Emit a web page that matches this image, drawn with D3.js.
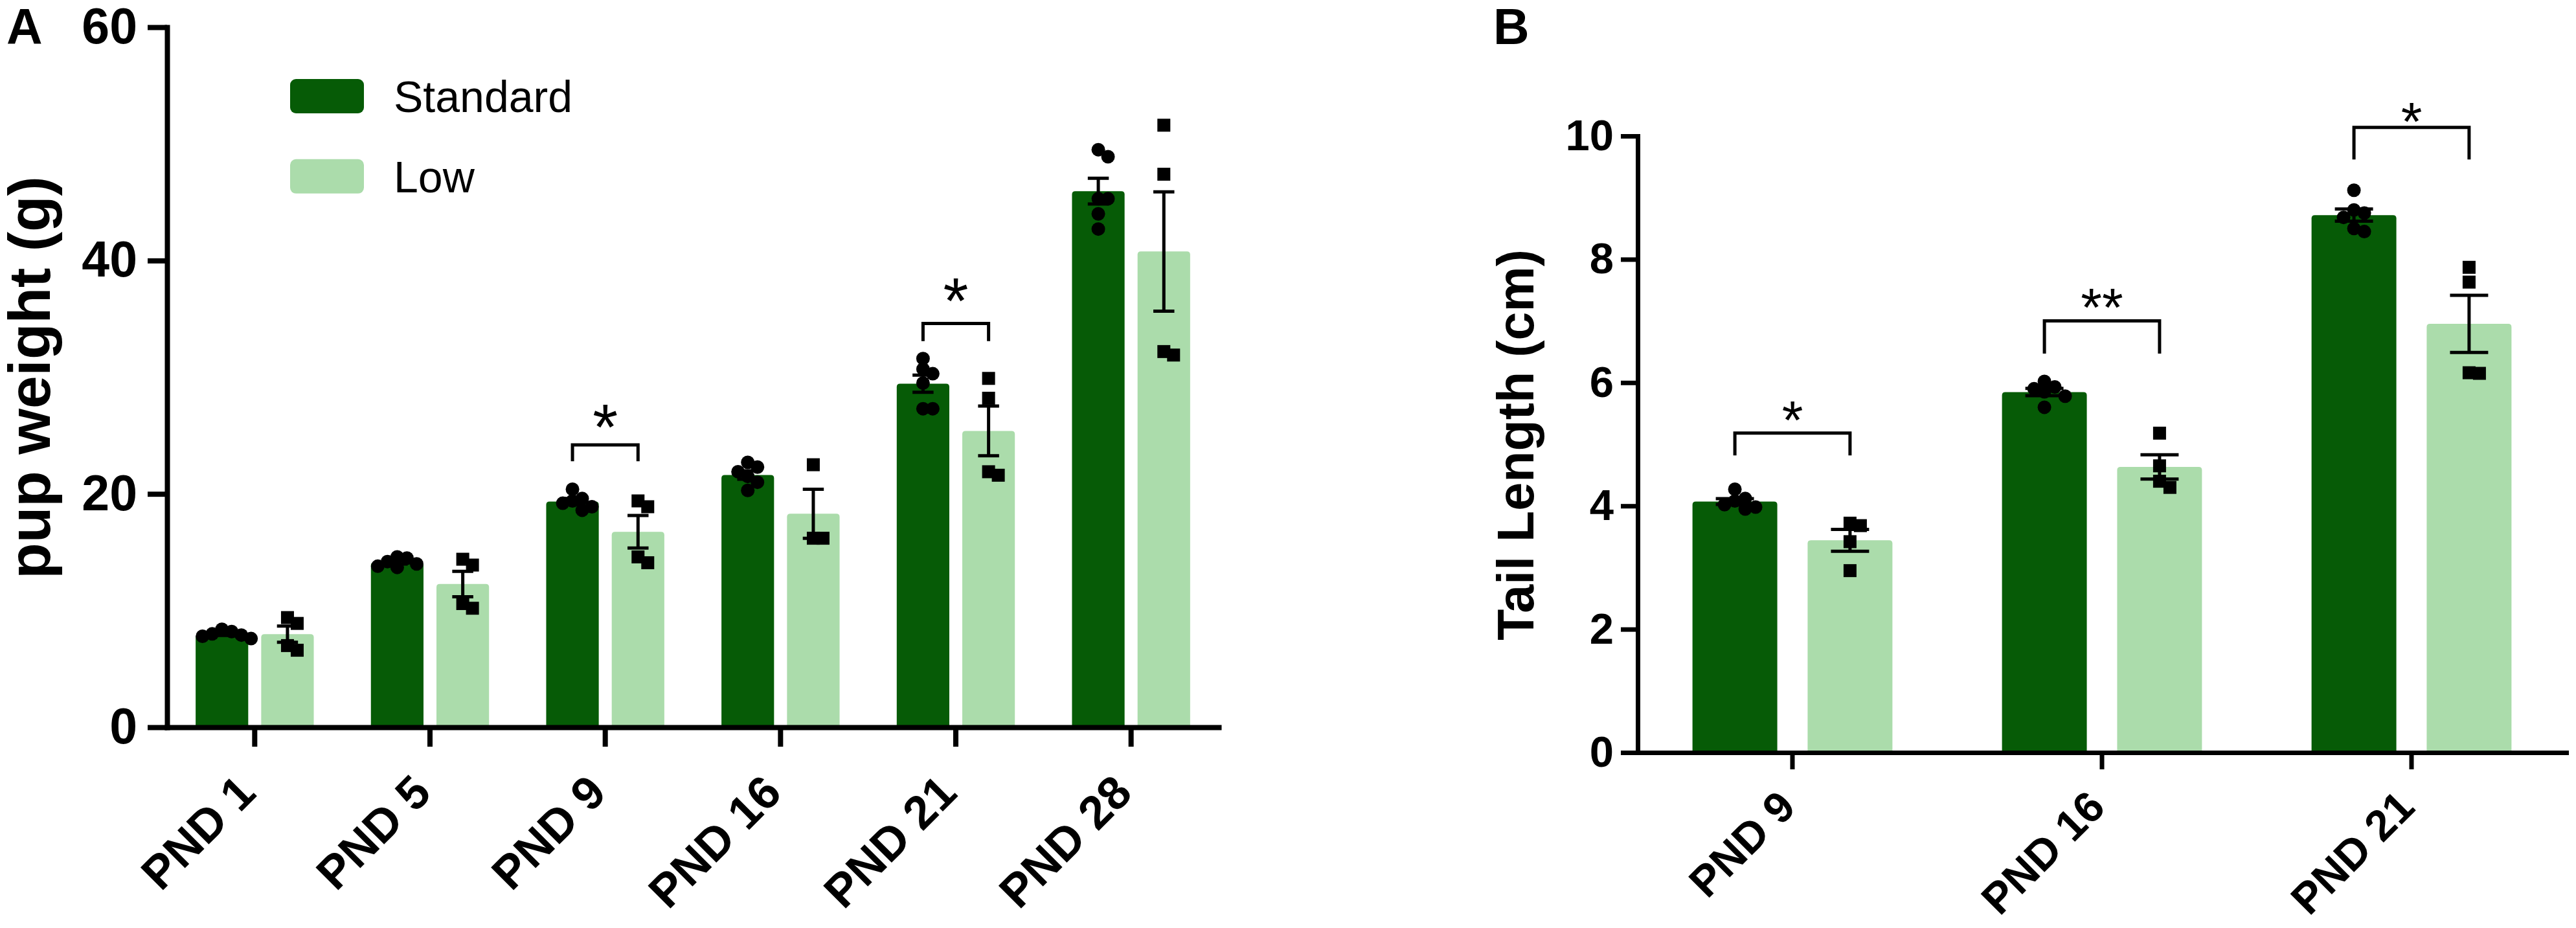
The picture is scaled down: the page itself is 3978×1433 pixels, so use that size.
<!DOCTYPE html>
<html><head><meta charset="utf-8">
<script src="https://cdn.jsdelivr.net/npm/d3@7"></script>
<style>
body{margin:0;background:#fff}
svg{display:block;background:#fff}
text{font-family:"Liberation Sans",Arial,Helvetica,sans-serif}
</style>
</head><body>
<svg id="chart" width="3978" height="1433"></svg>
<script>
// ---------------- DATA ----------------
const seriesNames = ["Standard", "Low"];
const seriesColors = ["#065b06", "#abdcab"];

// Panel A: pup weight (g)
const groupsA = ["PND 1", "PND 5", "PND 9", "PND 16", "PND 21", "PND 28"];
const weightStandard = [
  [8.4, 8.2, 8.0, 7.9, 7.8, 7.6],
  [14.6, 14.5, 14.2, 14.0, 13.8, 13.7],
  [20.4, 19.6, 19.4, 19.2, 18.9, 18.6],
  [22.7, 22.3, 21.9, 21.5, 21.0, 20.3],
  [31.6, 30.7, 30.3, 29.5, 27.3, 27.3],
  [49.5, 48.9, 45.3, 45.3, 44.0, 42.7]
];
const weightLow = [
  [9.4, 8.9, 7.0, 6.6],
  [14.4, 13.9, 10.6, 10.2],
  [19.4, 18.9, 14.6, 14.1],
  [22.5, 16.2, 16.2],
  [29.9, 28.2, 21.9, 21.6],
  [51.6, 47.4, 32.2, 31.9]
];
const ticksA = [0, 20, 40, 60];
const sigGroupsA = ["PND 9", "PND 21"];
const sigLineA = [24.2, 34.6];
const sigLegA = [22.8, 33.1];
const sigStarA = [27.0, 37.8];
const sigLabelA = ["*", "*"];

// Panel B: tail length (cm)
const groupsB = ["PND 9", "PND 16", "PND 21"];
const tailStandard = [
  [4.27, 4.12, 4.08, 4.02, 3.98, 3.95],
  [6.02, 5.93, 5.90, 5.85, 5.78, 5.60],
  [9.12, 8.80, 8.75, 8.68, 8.50, 8.45]
];
const tailLow = [
  [3.72, 3.68, 3.42, 2.95],
  [5.18, 4.65, 4.40, 4.30],
  [7.87, 7.63, 6.16, 6.15]
];
const ticksB = [0, 2, 4, 6, 8, 10];
const sigGroupsB = ["PND 9", "PND 16", "PND 21"];
const sigLineB = [5.18, 7.0, 10.14];
const sigLegB = [4.82, 6.47, 9.62];
const sigStarB = [5.59, 7.41, 10.43];
const sigLabelB = ["*", "**", "*"];

// ---------------- DRAW ----------------
const svg = d3.select("#chart");

function swarm(vals, y, step, minDist) {
  const order = vals.map((v, i) => i).sort((a, b) => vals[b] - vals[a]);
  const placed = [];
  const out = new Array(vals.length);
  const ks = [0, 1, -1, 2, -2, 3, -3];
  order.forEach(i => {
    const py = y(vals[i]);
    let px = 0;
    for (const k of ks) {
      const cx = k * step;
      if (placed.every(p => Math.hypot(p[0] - cx, p[1] - py) >= minDist)) { px = cx; break; }
    }
    placed.push([px, py]);
    out[i] = {v: vals[i], dx: px};
  });
  return out;
}

function drawPanel(c) {
  const g = svg.append("g");
  const x = d3.scaleBand().domain(c.groups).range([c.left, c.right]).paddingInner(0).paddingOuter(0);
  const step = x.bandwidth();
  const bw = step * c.barFrac, gap = step * c.gapFrac;
  const xs = d3.scaleBand().domain(seriesNames).range([-(bw + gap / 2), bw + gap / 2]).paddingInner(gap / (bw + gap)).paddingOuter(0);
  const y = d3.scaleLinear().domain([0, c.max]).range([c.bottom, c.top]);
  const barW = xs.bandwidth();

  const data = c.groups.flatMap((grp, i) => seriesNames.map((s, j) => {
    const vals = (j === 0 ? c.std : c.low)[i];
    const m = d3.mean(vals);
    const sem = d3.deviation(vals) / Math.sqrt(vals.length);
    const cx = x(grp) + step / 2 + xs(s) + barW / 2;
    return {grp, s, j, vals, m, sem, cx};
  }));

  // bars (rounded top corners)
  g.append("g").selectAll("path").data(data).join("path")
    .attr("d", d => {
      const x0 = d.cx - barW / 2, w = barW, yt = y(d.m), yb = y(0), r = 5;
      return `M${x0},${yb}V${yt + r}Q${x0},${yt} ${x0 + r},${yt}H${x0 + w - r}Q${x0 + w},${yt} ${x0 + w},${yt + r}V${yb}Z`;
    })
    .attr("fill", d => seriesColors[d.j]);

  // error bars
  const capW = barW * c.capFrac;
  const eb = g.append("g").attr("stroke", "#000").attr("stroke-width", c.errW).attr("fill", "none");
  eb.selectAll("path").data(data).join("path")
    .attr("d", d => {
      const yt = y(d.m + d.sem), ybm = y(d.m - d.sem);
      return `M${d.cx},${yt}V${ybm}M${d.cx - capW / 2},${yt}H${d.cx + capW / 2}M${d.cx - capW / 2},${ybm}H${d.cx + capW / 2}`;
    });

  // individual points
  const pts = data.flatMap(d => swarm(d.vals, y, c.swarmStep, c.swarmMin).map(p => ({...p, j: d.j, cx: d.cx + p.dx})));
  g.append("g").selectAll("circle").data(pts.filter(p => p.j === 0)).join("circle")
    .attr("cx", p => p.cx).attr("cy", p => y(p.v)).attr("r", c.dotR).attr("fill", "#000");
  g.append("g").selectAll("rect").data(pts.filter(p => p.j === 1)).join("rect")
    .attr("x", p => p.cx - c.sq / 2).attr("y", p => y(p.v) - c.sq / 2)
    .attr("width", c.sq).attr("height", c.sq).attr("fill", "#000");

  // axes
  const yAxis = g.append("g").attr("transform", `translate(${c.left},0)`)
    .call(d3.axisLeft(y).tickValues(c.ticks).tickSize(c.tickSize).tickSizeOuter(0).tickPadding(c.tickPad).tickFormat(d3.format("d")));
  const xAxis = g.append("g").attr("transform", `translate(0,${c.bottom})`)
    .call(d3.axisBottom(x).tickSize(c.tickSize).tickSizeOuter(0));
  [yAxis, xAxis].forEach(a => {
    a.selectAll("path,line").attr("stroke", "#000").attr("stroke-width", c.axisW);
    a.select(".domain").attr("stroke-linecap", "square");
  });
  yAxis.selectAll("text").attr("font-size", c.tickFont).attr("font-weight", "bold").attr("fill", "#000")
    .attr("font-family", '"Liberation Sans",Arial,sans-serif');
  xAxis.selectAll("text")
    .attr("x", 0).attr("y", 0).attr("dy", 0)
    .attr("transform", `translate(${c.labelDx},${c.labelDy}) rotate(-45)`)
    .attr("text-anchor", "end")
    .attr("font-size", c.labelFont).attr("font-weight", "bold").attr("fill", "#000")
    .attr("font-family", '"Liberation Sans",Arial,sans-serif');

  // axis title
  g.append("text")
    .attr("transform", `translate(${c.titleX},${c.titleY}) rotate(-90)`)
    .attr("text-anchor", "middle").attr("font-size", c.titleFont).attr("font-weight", "bold")
    .text(c.title);

  // panel letter
  g.append("text").attr("x", c.letterX).attr("y", c.letterY)
    .attr("font-size", c.letterFont).attr("font-weight", "bold").text(c.letter);

  // significance brackets
  const sig = c.sigGroups.map((grp, i) => ({grp, line: c.sigLine[i], leg: c.sigLeg[i], star: c.sigStar[i], label: c.sigLabel[i]}));
  const center = (grp, s) => x(grp) + step / 2 + xs(s) + barW / 2;
  g.append("g").selectAll("path").data(sig).join("path")
    .attr("fill", "none").attr("stroke", "#000").attr("stroke-width", c.sigW)
    .attr("d", d => `M${center(d.grp, "Standard")},${y(d.leg)}V${y(d.line)}H${center(d.grp, "Low")}V${y(d.leg)}`);
  g.append("g").selectAll("text").data(sig).join("text")
    .attr("x", d => (center(d.grp, "Standard") + center(d.grp, "Low")) / 2)
    .attr("y", d => y(d.star) + 0.57 * c.starFont)
    .attr("text-anchor", "middle").attr("font-size", c.starFont)
    .text(d => d.label);
  return g;
}

drawPanel({
  groups: groupsA, std: weightStandard, low: weightLow, max: 60, ticks: ticksA,
  left: 258, right: 1882, top: 42, bottom: 1123,
  barFrac: 0.30, gapFrac: 0.074, capFrac: 0.4, errW: 5,
  dotR: 10.5, sq: 20, swarmStep: 15, swarmMin: 15,
  tickSize: 30, tickPad: 16, tickFont: 77, axisW: 8,
  labelFont: 72, labelDx: 5, labelDy: 105,
  title: "pup weight (g)", titleX: 77, titleY: 583, titleFont: 91,
  letter: "A", letterX: 10, letterY: 68, letterFont: 77,
  sigGroups: sigGroupsA, sigLine: sigLineA, sigLeg: sigLegA, sigStar: sigStarA, sigLabel: sigLabelA,
  sigW: 5, starFont: 100
});

drawPanel({
  groups: groupsB, std: tailStandard, low: tailLow, max: 10, ticks: ticksB,
  left: 2529, right: 3963, top: 210, bottom: 1162,
  barFrac: 0.274, gapFrac: 0.098, capFrac: 0.45, errW: 5,
  dotR: 10.5, sq: 20, swarmStep: 16, swarmMin: 15,
  tickSize: 26, tickPad: 11, tickFont: 67, axisW: 7,
  labelFont: 67, labelDx: 8, labelDy: 88,
  title: "Tail Length (cm)", titleX: 2368, titleY: 687, titleFont: 79,
  letter: "B", letterX: 2306, letterY: 68, letterFont: 77,
  sigGroups: sigGroupsB, sigLine: sigLineB, sigLeg: sigLegB, sigStar: sigStarB, sigLabel: sigLabelB,
  sigW: 5, starFont: 84
});

// legend (panel A)
const legend = svg.append("g");
const legY = d3.scaleBand().domain(seriesNames).range([122, 314]).paddingInner(0.45).paddingOuter(0);
legend.selectAll("rect").data(seriesNames).join("rect")
  .attr("x", 448).attr("y", d => legY(d)).attr("width", 114).attr("height", 53).attr("rx", 9)
  .attr("fill", (d, i) => seriesColors[i]);
legend.selectAll("text").data(seriesNames).join("text")
  .attr("x", 608).attr("y", d => legY(d) + 26.5 + 0.358 * 68)
  .attr("font-size", 68).text(d => d);
</script>
</body></html>
